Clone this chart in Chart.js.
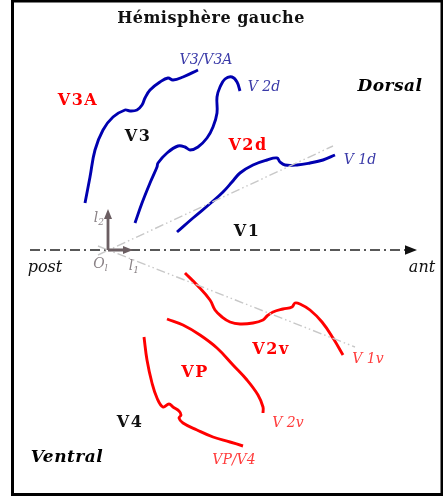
<!DOCTYPE html>
<html>
<head>
<meta charset="utf-8">
<script src="https://cdn.jsdelivr.net/npm/chart.js@4"></script>
<style>
  html, body { margin: 0; padding: 0; background: #fff; }
  #wrap { width: 443px; height: 498px; }
</style>
</head>
<body>
<div id="wrap"><canvas id="carte" width="443" height="498"></canvas></div>
<script>
// Frontieres des aires visuelles (coordonnees)
const v3aX = [85, 90, 95, 103, 113, 125, 130, 137, 142, 145, 150, 160, 168, 173, 183, 198];
const v3aY = [203, 177, 150, 130, 117, 110, 111, 110, 105, 98, 90, 82, 78, 80, 77, 70];

const v3X = [135, 142, 150, 157, 158, 167, 178, 185, 190, 198, 207, 213, 217, 217, 220, 225, 232, 237, 240];
const v3Y = [223, 203, 183, 167, 163, 153, 146, 147, 150, 147, 138, 127, 113, 97, 87, 79, 77, 82, 91];

const v2dX = [177, 193, 212, 223, 232, 240, 253, 267, 277, 280, 285, 297, 310, 323, 335];
const v2dY = [232, 218, 202, 192, 182, 173, 165, 160, 158, 162, 165, 165, 163, 160, 155];

const v2vX = [185, 197, 210, 215, 222, 230, 240, 253, 263, 267, 273, 283, 292, 295, 300, 310, 322, 333, 343];
const v2vY = [273, 285, 300, 310, 317, 322, 324, 323, 320, 316, 312, 309, 307, 303, 304, 310, 322, 338, 355];

const vpX = [167, 183, 200, 217, 233, 247, 258, 263, 263];
const vpY = [319, 325, 335, 348, 365, 380, 395, 407, 413];

const v4X = [144, 147, 152, 157, 163, 169, 173, 179, 181, 179, 183, 197, 213, 230, 243];
const v4Y = [337, 360, 383, 398, 407, 404, 407, 411, 415, 418, 423, 430, 437, 442, 446];

// Meridiens horizontaux (gris) et axe post/ant
const hmUpX = [98, 333];
const hmUpY = [255, 146];
const hmLoX = [98, 355];
const hmLoY = [246, 347];
const axeX = [30, 410];
const axeY = [250, 250];

// Repere local
const origine = [108, 250];
const l1Fin = [133, 250];
const l2Fin = [108, 209];

// Etiquettes
const labelTexts = ['Hémisphère gauche', 'V3/V3A', 'V 2d', 'Dorsal', 'V3A', 'V3', 'V2d', 'V 1d', 'V1',
  'post', 'ant', 'l', 'O', 'l', 'V2v', 'V 1v', 'VP', 'V 2v', 'V4', 'Ventral', 'VP/V4'];
const labelXs = [211, 206, 264, 390, 78, 138, 248, 360, 247, 45, 422, 98, 101, 133, 271, 368, 195, 288, 130, 67, 234];
const labelYs = [19, 60, 87, 87, 101, 137, 146, 160, 232, 268, 268, 218, 264, 266, 350, 359, 373, 423, 423, 458, 460];
const labelKinds = ['titre', 'bleu', 'bleu', 'cote', 'rouge', 'noir', 'rouge', 'bleu', 'noir',
  'axe', 'axe', 'repere', 'repere', 'repere', 'rouge', 'rougeIt', 'rouge', 'rougeIt', 'noir', 'cote', 'rougeIt'];
const labelSubs = ['', '', '', '', '', '', '', '', '', '', '', '2', 'l', '1', '', '', '', '', '', '', ''];

const BLEU = '#0000b0';
const ROUGE = '#ff0000';
const GRIS = '#c8c8c8';
const REPERE = '#6b5e62';

const styles = {
  titre: { font: 'bold 16px "DejaVu Serif"', color: '#111', spacing: '0.5px' },
  bleu: { font: 'italic 14px "DejaVu Serif"', color: '#3a3aa8', spacing: '0px' },
  cote: { font: 'bold italic 17px "DejaVu Serif"', color: '#000', spacing: '0.5px' },
  rouge: { font: 'bold 16px "DejaVu Serif"', color: '#ff0000', spacing: '1.5px' },
  noir: { font: 'bold 16px "DejaVu Serif"', color: '#111', spacing: '1.5px' },
  axe: { font: 'italic 16px "DejaVu Serif"', color: '#111', spacing: '0px' },
  repere: { font: 'italic 14px "DejaVu Serif"', color: '#8a8286', spacing: '0px' },
  rougeIt: { font: 'italic 14px "DejaVu Serif"', color: '#ff3b3b', spacing: '0px' },
};

function pts(xs, ys) {
  return xs.map((x, i) => ({ x: x, y: ys[i] }));
}

function courbe(xs, ys, color) {
  return {
    data: pts(xs, ys),
    showLine: true,
    borderColor: color,
    borderWidth: 2.9,
    pointRadius: 0,
    tension: 0.4,
    borderCapStyle: 'butt',
    fill: false,
  };
}

function droite(xs, ys, color, width, dash) {
  return {
    data: pts(xs, ys),
    showLine: true,
    borderColor: color,
    borderWidth: width,
    borderDash: dash,
    pointRadius: 0,
    tension: 0,
    fill: false,
  };
}

function fleche(ctx, x0, y0, x1, y1, size, color) {
  const a = Math.atan2(y1 - y0, x1 - x0);
  ctx.save();
  ctx.fillStyle = color;
  ctx.beginPath();
  ctx.moveTo(x1, y1);
  ctx.lineTo(x1 - size * Math.cos(a) + size * 0.4 * Math.sin(a), y1 - size * Math.sin(a) - size * 0.4 * Math.cos(a));
  ctx.lineTo(x1 - size * Math.cos(a) - size * 0.4 * Math.sin(a), y1 - size * Math.sin(a) + size * 0.4 * Math.cos(a));
  ctx.closePath();
  ctx.fill();
  ctx.restore();
}

const decor = {
  id: 'decor',
  afterDatasetsDraw(chart) {
    const ctx = chart.ctx;
    const sx = chart.scales.x, sy = chart.scales.y;
    const px = v => sx.getPixelForValue(v);
    const py = v => sy.getPixelForValue(v);

    // pointe de l'axe post -> ant
    fleche(ctx, px(axeX[0]), py(axeY[0]), px(axeX[1] + 7), py(axeY[1]), 12, '#111');

    // repere l1 / l2
    ctx.save();
    ctx.strokeStyle = REPERE;
    ctx.lineWidth = 2.8;
    ctx.beginPath();
    ctx.moveTo(px(origine[0]), py(origine[1]));
    ctx.lineTo(px(l1Fin[0]) - 8, py(l1Fin[1]));
    ctx.moveTo(px(origine[0]), py(origine[1]));
    ctx.lineTo(px(l2Fin[0]), py(l2Fin[1]) + 8);
    ctx.stroke();
    ctx.restore();
    fleche(ctx, px(origine[0]), py(origine[1]), px(l1Fin[0]), py(l1Fin[1]), 10, REPERE);
    fleche(ctx, px(origine[0]), py(origine[1]), px(l2Fin[0]), py(l2Fin[1]), 10, REPERE);

    // etiquettes
    ctx.save();
    ctx.textAlign = 'center';
    ctx.textBaseline = 'middle';
    labelTexts.forEach((t, i) => {
      const st = styles[labelKinds[i]];
      ctx.font = st.font;
      ctx.letterSpacing = st.spacing;
      ctx.fillStyle = st.color;
      const x = px(labelXs[i]), y = py(labelYs[i]);
      if (labelSubs[i]) {
        const w = ctx.measureText(t).width;
        ctx.fillText(t, x - 2, y);
        ctx.font = 'italic 9px "DejaVu Serif"';
        ctx.textAlign = 'left';
        ctx.fillText(labelSubs[i], x - 2 + w / 2, y + 5);
        ctx.textAlign = 'center';
      } else {
        ctx.fillText(t, x, y);
      }
    });
    ctx.restore();

    // cadre
    ctx.save();
    ctx.strokeStyle = '#000';
    ctx.lineWidth = 3;
    ctx.strokeRect(12.5, 1, 429.5, 493.5);
    ctx.restore();
  },
};

new Chart(document.getElementById('carte'), {
  type: 'scatter',
  data: {
    datasets: [
      droite(hmUpX, hmUpY, GRIS, 1.4, [9, 3, 1.5, 3, 1.5, 3]),
      droite(hmLoX, hmLoY, GRIS, 1.4, [9, 3, 1.5, 3, 1.5, 3]),
      droite(axeX, axeY, '#222', 1.6, [10, 4, 2, 4]),
      courbe(v3aX, v3aY, BLEU),
      courbe(v3X, v3Y, BLEU),
      courbe(v2dX, v2dY, BLEU),
      courbe(v2vX, v2vY, ROUGE),
      courbe(vpX, vpY, ROUGE),
      courbe(v4X, v4Y, ROUGE),
    ],
  },
  options: {
    responsive: false,
    animation: false,
    events: [],
    layout: { padding: 0 },
    plugins: {
      legend: { display: false },
      tooltip: { enabled: false },
    },
    scales: {
      x: { type: 'linear', min: 0, max: 443, display: false },
      y: { type: 'linear', min: 0, max: 498, reverse: true, display: false },
    },
  },
  plugins: [decor],
});
</script>
</body>
</html>
